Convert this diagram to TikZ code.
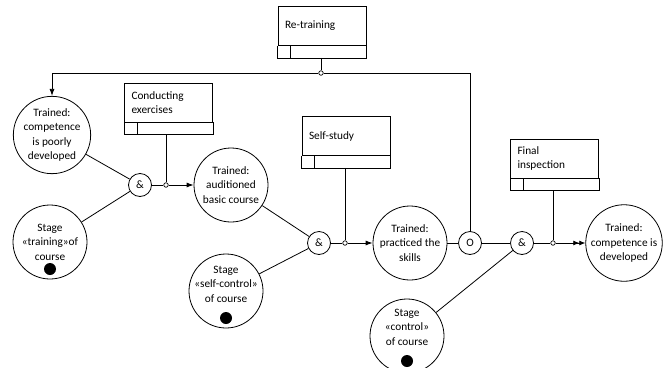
\documentclass[tikz,border=0pt]{standalone}
\usepackage{fontspec}
\setmainfont{Carlito}
\usetikzlibrary{arrows.meta}
\tikzset{
  every path/.style={line width=0.8pt},
  arr/.style={-{Latex[length=7pt,width=5pt]}},
  darr/.style={-{Latex[length=6pt,width=5pt]Latex[length=6pt,width=5pt]}},
  state/.style={draw, circle, minimum size=74pt, inner sep=0pt, align=center,
    font=\fontsize{11.3}{14.4}\selectfont},
  gate/.style={draw, circle, minimum size=23pt, inner sep=0pt,
    font=\fontsize{11.3}{13}\selectfont},
  actbox/.style={draw, rectangle, minimum width=88pt, minimum height=39pt,
    inner xsep=7pt, inner ysep=0pt, text width=74pt, align=left,
    font=\fontsize{11.3}{14.4}\selectfont},
  jdot/.style={draw, circle, fill=white, minimum size=4.5pt, inner sep=0pt, line width=0.7pt},
  token/.style={circle, fill=black, minimum size=12pt, inner sep=0pt},
  stagetext/.style={align=center, font=\fontsize{11.3}{14.4}\selectfont},
}
% lower strip of an action box: a long cell and a small cell on the left
\newcommand{\actstrip}[1]{%
  \draw (#1.south west) -- ([yshift=-12pt]#1.south west)
        -- ([yshift=-12pt]#1.south east) -- (#1.south east);
  \draw ([xshift=13pt]#1.south west) -- ([xshift=13pt,yshift=-12pt]#1.south west);}
\begin{document}
\begin{tikzpicture}[x=1pt,y=-1pt]
\useasboundingbox (0,0) rectangle (668,367);

% action boxes
\node[actbox] (rt) at (322,26) {Re-training};
\actstrip{rt}
\node[actbox] (ce) at (168.5,102.5) {Conducting\\exercises};
\actstrip{ce}
\node[actbox] (ss) at (346,136) {Self-study};
\actstrip{ss}
\node[actbox] (fi) at (554.5,158.5) {Final\\inspection};
\actstrip{fi}

% states
\node[state] (c1) at (52,135) {Trained:\\competence\\is poorly\\developed};
\node[state] (c2) at (231,185) {Trained:\\auditioned\\basic course};
\node[state] (c5) at (410,243) {Trained:\\practiced the\\skills};
\node[state] (c6) at (624,243) {Trained:\\competence is\\developed};
\node[state, label={[stagetext]center:Stage\\«training»of\\course}] (c3) at (50,242) {};
\node[state, label={[stagetext, yshift=7pt]center:Stage\\«self-control»\\of course}] (c4) at (226,291) {};
\node[state, label={[stagetext, yshift=9pt]center:Stage\\«control»\\of course}] (c7) at (407,336) {};
\node[token] (t3) at (50,269) {};
\node[token] (t4) at (226,318) {};
\node[token] (t7) at (407,361) {};

% gates
\node[gate] (g1) at (140,185) {\&};
\node[gate] (g2) at (319,243) {\&};
\node[gate] (gO) at (470,243) {O};
\node[gate] (g3) at (522,243) {\&};

% junctions
\node[jdot] (j0) at (321,73) {};
\node[jdot] (j1) at (166,185) {};
\node[jdot] (j2) at (345,243) {};
\node[jdot] (j3) at (553,243) {};

% re-training loop
\draw ([yshift=-12pt]rt.south -| j0) -- (j0);
\draw[arr] (j0) -| (c1);
\draw (j0) -| (gO);

% training stage
\draw (c1) -- (g1);
\draw (c3) -- (g1);
\draw (g1) -- (j1);
\draw ([yshift=-12pt]ce.south -| j1) -- (j1);
\draw[arr] (j1) -- (c2);

% self-control stage
\draw (c2) -- (g2);
\draw (c4) -- (g2);
\draw (g2) -- (j2);
\draw ([yshift=-12pt]ss.south -| j2) -- (j2);
\draw[arr] (j2) -- (c5);

% control stage
\draw (c5) -- (gO);
\draw (gO) -- (g3);
\draw (c7) -- (g3);
\draw (g3) -- (j3);
\draw ([yshift=-12pt]fi.south -| j3) -- (j3);
\draw[darr] (j3) -- (c6);
\end{tikzpicture}
\end{document}
